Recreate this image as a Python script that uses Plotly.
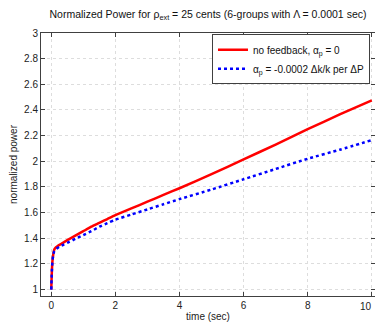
import plotly.graph_objects as go

# Time points (sec) and normalized power for both cases
time_s = [0, 0.01, 0.02, 0.04, 0.06, 0.08, 0.1, 0.15, 0.2, 0.3, 0.4, 0.5, 0.75, 1, 1.25, 1.5, 1.75,
          2, 2.5, 3, 3.5, 4, 5, 6, 7, 8, 9, 10]
power_no_fb = [1.0, 1.08, 1.15, 1.23, 1.27, 1.3, 1.315, 1.33, 1.34, 1.355, 1.37, 1.385, 1.42, 1.455,
               1.49, 1.52, 1.55, 1.58, 1.633, 1.685, 1.738, 1.79, 1.90, 2.015, 2.13, 2.25, 2.365, 2.475]
power_fb = [1.0, 1.08, 1.15, 1.23, 1.265, 1.29, 1.30, 1.315, 1.325, 1.34, 1.352, 1.365, 1.395, 1.425,
            1.455, 1.49, 1.518, 1.545, 1.585, 1.625, 1.665, 1.705, 1.78, 1.86, 1.94, 2.02, 2.09, 2.165]

x_ticks = [0, 2, 4, 6, 8, 10]
y_ticks = [1, 1.2, 1.4, 1.6, 1.8, 2, 2.2, 2.4, 2.6, 2.8, 3]

FONT = "Liberation Sans, Arial, sans-serif"

fig = go.Figure()
fig.add_trace(go.Scatter(
    x=time_s, y=power_no_fb, mode="lines", line_shape="spline",
    line=dict(color="#ff0000", width=2.5, smoothing=0.6),
    name="no feedback, α<sub>p</sub> = 0",
))
fig.add_trace(go.Scatter(
    x=time_s, y=power_fb, mode="lines", line_shape="spline",
    line=dict(color="#0000ff", width=2.5, dash="dot", smoothing=0.6),
    name="α<sub>p</sub> = -0.0002 Δk/k per ΔP",
))

axis_common = dict(
    showline=True, linecolor="#404040", linewidth=1, mirror="ticks",
    ticks="inside", ticklen=4, tickcolor="#404040",
    showgrid=True, gridcolor="#dddddd", griddash="dot", gridwidth=1,
    zeroline=False, tickfont=dict(size=10, color="#222222", family=FONT),
    automargin=False,
)

# The last x tick label sits at the page edge; draw it as an annotation kept inside the page
x_ticktext = [f"{v:g}" for v in x_ticks]
last_label = x_ticktext[-1]
x_ticktext[-1] = ""

fig.update_layout(
    width=375, height=322,
    margin=dict(l=41, r=0, t=33, b=26),
    paper_bgcolor="white", plot_bgcolor="white",
    font=dict(family=FONT, size=10, color="#222222"),
    title=dict(
        text="Normalized Power for ρ<sub>ext</sub> = 25 cents (6-groups with Λ = 0.0001 sec)",
        x=0.5, xref="paper", xanchor="center", y=0.955, yanchor="middle",
        font=dict(size=10.5, family=FONT, color="#111111"),
    ),
    xaxis=dict(range=[-0.32, 10.1], tickvals=x_ticks, ticktext=x_ticktext,
               title=dict(text="time (sec)", standoff=2, font=dict(size=10)),
               **axis_common),
    yaxis=dict(range=[0.95, 3.0], tickvals=y_ticks,
               ticktext=[f"{v:g}" for v in y_ticks],
               title=dict(text="normalized power", standoff=4, font=dict(size=10)),
               **axis_common),
    legend=dict(
        x=0.985, y=0.995, xanchor="right", yanchor="top",
        bgcolor="white", bordercolor="#404040", borderwidth=1,
        font=dict(size=10, family=FONT, color="#111111"),
        tracegroupgap=0, itemwidth=30,
    ),
    showlegend=True,
)

fig.add_annotation(
    x=1, xref="paper", y=0, yref="paper", yshift=-3, xshift=-1,
    text=last_label, showarrow=False,
    xanchor="right", yanchor="top",
    font=dict(size=10, family=FONT, color="#222222"),
)

fig.write_html("out.html")
